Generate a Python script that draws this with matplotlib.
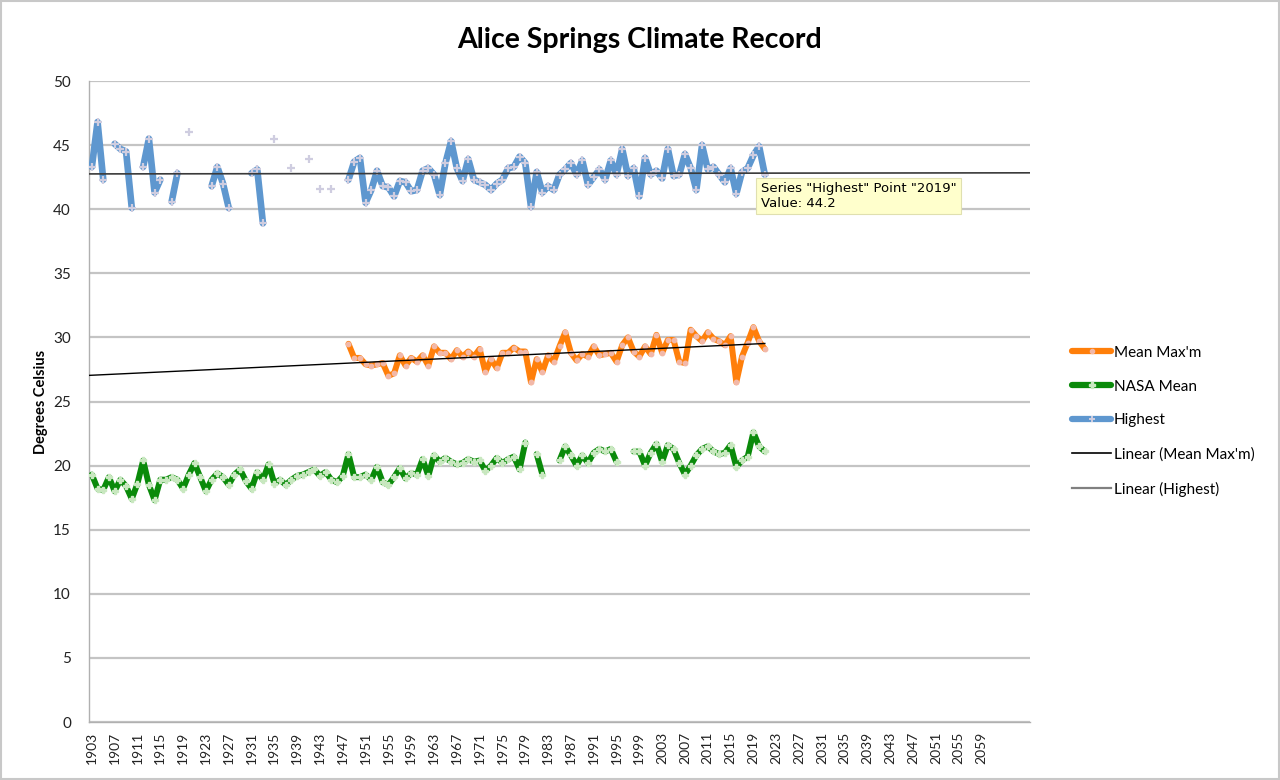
import matplotlib.pyplot as plt
import matplotlib.patches as patches
from matplotlib.lines import Line2D
import numpy as np

# yearly records 1903 - 2021, None = no reading
years = list(range(1903, 2022))

highest = [
    43.3, 46.8, 42.3, None, 45.1, 44.7, 44.5, 40.1, None, 43.3,      # 1903-1912
    45.5, 41.3, 42.3, None, 40.6, 42.8, None, 46.0, None, None,      # 1913-1922
    None, 41.8, 43.3, 42.0, 40.1, None, None, None, 42.8, 43.1,      # 1923-1932
    38.9, None, 45.5, None, None, 43.2, None, None, 43.9, None,      # 1933-1942
    41.6, None, 41.6, None, None, 42.3, 43.7, 44.0, 40.5, 41.5,      # 1943-1952
    43.0, 41.8, 41.7, 41.0, 42.2, 42.1, 41.4, 41.5, 43.0, 43.2,      # 1953-1962
    42.7, 41.1, 43.6, 45.3, 43.2, 42.2, 43.9, 42.3, 42.1, 41.9,      # 1963-1972
    41.5, 42.0, 42.3, 43.2, 43.3, 44.1, 43.6, 40.2, 42.9, 41.3,      # 1973-1982
    41.8, 41.5, 42.7, 43.1, 43.6, 42.7, 43.8, 41.9, 42.5, 43.1,      # 1983-1992
    42.3, 43.8, 42.7, 44.7, 42.6, 43.2, 41.0, 44.0, 42.7, 43.0,      # 1993-2002
    42.4, 44.7, 42.6, 42.7, 44.3, 43.2, 41.5, 45.0, 43.1, 43.3,      # 2003-2012
    42.7, 42.1, 43.2, 41.2, 42.9, 43.2, 44.2, 44.9, 42.7,            # 2013-2021
]

mean_max = [None] * 45 + [                                           # 1903-1947
    29.5, 28.4, 28.4, 27.9, 27.8,                                    # 1948-1952
    27.9, 28.0, 27.0, 27.2, 28.6, 27.8, 28.4, 28.1, 28.6, 27.8,      # 1953-1962
    29.3, 28.8, 28.8, 28.3, 29.0, 28.5, 28.9, 28.5, 29.1, 27.3,      # 1963-1972
    28.3, 27.6, 28.8, 28.8, 29.2, 28.9, 28.9, 26.5, 28.3, 27.3,      # 1973-1982
    28.6, 28.1, 29.3, 30.4, 28.8, 28.2, 28.7, 28.5, 29.3, 28.6,      # 1983-1992
    28.7, 28.8, 28.1, 29.4, 30.0, 28.9, 28.5, 29.3, 28.7, 30.2,      # 1993-2002
    28.8, 29.8, 29.8, 28.1, 28.0, 30.6, 30.1, 29.7, 30.4, 29.9,      # 2003-2012
    29.7, 29.4, 30.1, 26.5, 28.5, 29.6, 30.8, 29.7, 29.1,            # 2013-2021
]

nasa_mean = [
    19.3, 18.2, 18.1, 19.1, 18.0, 18.9, 18.4, 17.4, 18.6, 20.4,      # 1903-1912
    18.5, 17.3, 18.9, 18.9, 19.1, 18.9, 18.2, 19.3, 20.2, 19.1,      # 1913-1922
    18.0, 18.9, 19.4, 19.1, 18.5, 19.3, 19.7, 18.8, 18.2, 19.5,      # 1923-1932
    18.9, 20.1, 18.6, 18.9, 18.5, 18.9, 19.2, 19.3, 19.5, 19.7,      # 1933-1942
    19.2, 19.5, 18.9, 18.7, 19.2, 20.9, 19.1, 19.1, 19.3, 18.9,      # 1943-1952
    19.9, 18.7, 18.5, 19.1, 19.8, 19.0, 19.4, 19.3, 20.5, 19.2,      # 1953-1962
    20.8, 20.3, 20.6, 20.3, 20.1, 20.2, 20.5, 20.3, 20.4, 19.6,      # 1963-1972
    20.0, 20.6, 20.2, 20.5, 20.7, 19.7, 21.8, None, 20.9, 19.3,      # 1973-1982
    None, None, 20.4, 21.5, 20.8, 20.0, 20.8, 20.2, 21.0, 21.3,      # 1983-1992
    21.1, 21.3, 20.3, None, None, 21.1, 21.1, 20.0, 21.0, 21.7,      # 1993-2002
    20.3, 21.6, 21.3, 20.2, 19.3, 20.0, 20.8, 21.3, 21.5, 21.1,      # 2003-2012
    20.9, 21.0, 21.6, 19.9, 20.4, 20.7, 22.6, 21.5, 21.1,            # 2013-2021
]

x_ticks = list(range(1903, 2063, 4))
y_ticks = list(range(0, 55, 5))

yr = np.array(years)
hi = np.array(highest, dtype=float)
mm = np.array(mean_max, dtype=float)
nm = np.array(nasa_mean, dtype=float)

plt.rcParams['font.family'] = 'Lato'

fig = plt.figure(figsize=(12.8, 7.8), dpi=100)
ax = fig.add_axes([89 / 1280, 1 - 722 / 780, (1030 - 89) / 1280, (722 - 81) / 780])

x0, x1 = 1902.5, 2067.5

ax.plot(yr, mm, color='#ff7f0a', lw=4.3, solid_capstyle='round', solid_joinstyle='round',
        marker='o', ms=3.2, mfc='#f2b8a8', mec='#f2b8a8', zorder=3)
ax.plot(yr, nm, color='#0a8a0a', lw=4.3, solid_capstyle='round', solid_joinstyle='round',
        marker='P', ms=5, mfc='#c9e8c0', mec='#c9e8c0', zorder=3)
ax.plot(yr, hi, color='#5e97cf', lw=4.8, solid_capstyle='round', solid_joinstyle='round',
        marker='+', ms=6, mew=1.6, mec='#cfcde0', zorder=3)

# linear trend lines
ok = ~np.isnan(mm)
k, b = np.polyfit(yr[ok], mm[ok], 1)
tx = np.array([x0, years[-1]])
ax.plot(tx, k * tx + b, color='black', lw=1.0, zorder=4)

ok = ~np.isnan(hi)
k2, b2 = np.polyfit(yr[ok], hi[ok], 1)
tx2 = np.array([x0, x1])
ax.plot(tx2, k2 * tx2 + b2, color='#3a3a3a', lw=1.2, zorder=4)

ax.set_xlim(x0, x1)
ax.set_ylim(0, 50)
ax.set_xticks(x_ticks)
ax.set_xticklabels([str(t) for t in x_ticks], rotation=90, fontsize=10, color='#222222')
ax.set_yticks(y_ticks)
ax.set_yticklabels([str(t) for t in y_ticks], fontsize=11, color='#222222')
ax.tick_params(axis='both', length=0)
ax.tick_params(axis='y', pad=13)
ax.tick_params(axis='x', pad=7)
ax.yaxis.grid(True, color='#c4c4c4', lw=1.6)
ax.set_axisbelow(True)
for s in ['top', 'right']:
    ax.spines[s].set_visible(False)
for s in ['left', 'bottom']:
    ax.spines[s].set_color('#b0b0b0')
    ax.spines[s].set_linewidth(1.0)

ax.set_ylabel('Degrees Celsius', fontsize=10.5, fontweight='bold', labelpad=4)
fig.text(0.5, 1 - 40 / 780, 'Alice Springs Climate Record', ha='center', va='center',
         fontsize=20.5, fontweight='bold')

# legend on the right
h_mm = Line2D([], [], color='#ff7f0a', lw=4.5, solid_capstyle='round', marker='o', ms=3, mfc='#f2b8a8', mec='#f2b8a8')
h_nm = Line2D([], [], color='#0a8a0a', lw=4.5, solid_capstyle='round', marker='P', ms=4.5, mfc='#c9e8c0', mec='#c9e8c0')
h_hi = Line2D([], [], color='#5e97cf', lw=4.5, solid_capstyle='round', marker='+', ms=5, mew=1.4, mec='#cfcde0')
h_tm = Line2D([], [], color='black', lw=1.2)
h_th = Line2D([], [], color='#808080', lw=1.6)
fig.legend([h_mm, h_nm, h_hi, h_tm, h_th],
           ["Mean Max'm", 'NASA Mean', 'Highest', "Linear (Mean Max'm)", 'Linear (Highest)'],
           loc='upper left', bbox_to_anchor=(1058 / 1280, 1 - 332 / 780), frameon=False,
           fontsize=11, handlelength=2.6, handletextpad=0.15, labelspacing=1.3)

# hover tooltip left in the screenshot
fig.text(761 / 1280, 1 - 196 / 780, 'Series "Highest" Point "2019"\nValue: 44.2',
         ha='left', va='center', fontsize=9.5, family='DejaVu Sans', linespacing=1.15,
         bbox=dict(boxstyle='square,pad=0.35', fc='#ffffcc', ec='#e0e0b0', lw=0.8), zorder=10)

# outer chart border
fig.patches.append(patches.Rectangle((0.001, 0.001), 0.998, 0.998, transform=fig.transFigure,
                                     fill=False, ec='#c8c8c8', lw=1.5))

fig.savefig('out.png', dpi=100)
